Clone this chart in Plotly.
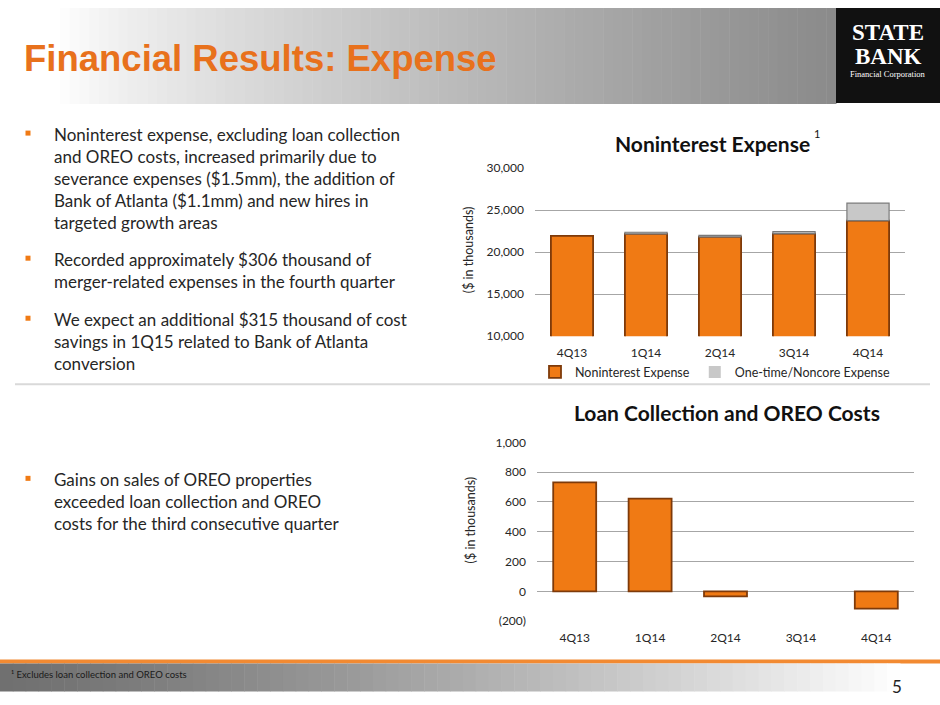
import plotly.graph_objects as go

# ---------------- data ----------------
quarters = ["4Q13", "1Q14", "2Q14", "3Q14", "4Q14"]
nonint_expense = [21930, 22170, 21810, 22200, 23760]
onetime_expense = [0, 200, 200, 250, 2070]
loan_oreo_costs = [731, 622, -34, 0, -116]

top_yticks = [10000, 15000, 20000, 25000, 30000]
top_yticklabels = ["10,000", "15,000", "20,000", "25,000", "30,000"]
bot_yticks = [-200, 0, 200, 400, 600, 800, 1000]
bot_yticklabels = ["(200)", "0", "200", "400", "600", "800", "1,000"]

bullets_top = [
    "Noninterest expense, excluding loan collection<br>and OREO costs, increased primarily due to<br>"
    "severance expenses ($1.5mm), the addition of<br>Bank of Atlanta ($1.1mm) and new hires in<br>targeted growth areas",
    "Recorded approximately $306 thousand of<br>merger-related expenses in the fourth quarter",
    "We expect an additional $315 thousand of cost<br>savings in 1Q15 related to Bank of Atlanta<br>conversion",
]
bullet_bottom = "Gains on sales of OREO properties<br>exceeded loan collection and OREO<br>costs for the third consecutive quarter"

# ---------------- style ----------------
W, H = 940, 705
ORANGE = "#F07A14"
ORANGE_EDGE = "#7E3A0A"
GRAY_BAR = "#C8C8C8"
GRAY_EDGE = "#7A7A7A"
GRID = "#A6A6A6"
TXT = "#262626"
BODY_FONT = "Lato, Carlito, Calibri, sans-serif"

# the photographed page shows the figure slightly compressed vertically
# (offset 8 px, scale ~0.978); positions below are given in target-picture
# pixels and converted here.
V_OFF, V_SCALE = 8.0, 0.978


def px(x):
    return x / W


def py(y):
    yf = (y - V_OFF) / V_SCALE
    return min(1.0, max(0.0, 1 - yf / H))


fig = go.Figure()

fig.add_trace(go.Bar(
    x=quarters, y=nonint_expense, name="Noninterest Expense",
    marker=dict(color=ORANGE, line=dict(color=ORANGE_EDGE, width=1.8)),
    width=0.57, xaxis="x", yaxis="y",
))
fig.add_trace(go.Bar(
    x=quarters, y=onetime_expense, name="One-time/Noncore Expense",
    marker=dict(color=GRAY_BAR,
                line=dict(color=GRAY_EDGE, width=[0 if v == 0 else 1.2 for v in onetime_expense])),
    width=0.57, xaxis="x", yaxis="y",
))
fig.add_trace(go.Bar(
    x=quarters, y=loan_oreo_costs, name="Loan Collection and OREO Costs",
    marker=dict(color=ORANGE,
                line=dict(color=ORANGE_EDGE, width=[0 if v == 0 else 1.8 for v in loan_oreo_costs])),
    width=0.57, xaxis="x2", yaxis="y2", showlegend=False,
))

shapes = []

# header gradient band
n = 80
x0, x1 = 60, 836
for i in range(n):
    a = x0 + (x1 - x0) * i / n
    b = x0 + (x1 - x0) * (i + 1) / n + 0.5
    t = (i + 0.5) / n
    v = int(round(255 - (255 - 138) * (t ** 0.8)))
    c = f"rgb({v},{v},{v})"
    shapes.append(dict(type="rect", xref="paper", yref="paper",
                       x0=px(a), x1=px(b), y0=py(104), y1=1,
                       fillcolor=c, line=dict(width=0), layer="below"))
# logo box
shapes.append(dict(type="rect", xref="paper", yref="paper",
                   x0=px(836), x1=px(940), y0=py(103), y1=1,
                   fillcolor="#111111", line=dict(width=0), layer="below"))

# separator line
shapes.append(dict(type="line", xref="paper", yref="paper",
                   x0=px(15), x1=px(930), y0=py(384), y1=py(384),
                   line=dict(color="#D9D9D9", width=2), layer="below"))

# footer orange line
shapes.append(dict(type="rect", xref="paper", yref="paper",
                   x0=0, x1=1, y0=py(663), y1=py(659),
                   fillcolor="#F28A32", line=dict(width=0), layer="below"))
# footer gradient
n2 = 70
for i in range(n2):
    a = 900 * i / n2
    b = 900 * (i + 1) / n2 + 0.5
    t = (i + 0.5) / n2
    v = int(round(112 + (255 - 112) * (t ** 1.3)))
    c = f"rgb({v},{v},{v})"
    shapes.append(dict(type="rect", xref="paper", yref="paper",
                       x0=px(a), x1=px(b), y0=py(691), y1=py(663),
                       fillcolor=c, line=dict(width=0), layer="below"))

# bullet squares
for yc in [133, 258, 318, 478]:
    shapes.append(dict(type="rect", xref="paper", yref="paper",
                       x0=px(25.5), x1=px(30.5), y0=py(yc + 2.5), y1=py(yc - 2.5),
                       fillcolor="#F07A14", line=dict(width=0)))

annotations = []

# title
annotations.append(dict(text="<b>Financial Results: Expense</b>", x=px(22), y=py(58),
                        xref="paper", yref="paper", xanchor="left", yanchor="middle",
                        showarrow=False,
                        font=dict(family="Liberation Sans Narrow, Arial Narrow, Arial, sans-serif",
                                  size=36.5, color="#E8711C")))
# logo text
annotations.append(dict(text="<b>STATE</b>", x=px(888), y=py(32), xref="paper", yref="paper",
                        showarrow=False, xanchor="center", yanchor="middle",
                        font=dict(family="Liberation Serif, serif", size=23, color="white")))
annotations.append(dict(text="<b>BANK</b>", x=px(888), y=py(56), xref="paper", yref="paper",
                        showarrow=False, xanchor="center", yanchor="middle",
                        font=dict(family="Liberation Serif, serif", size=23, color="white")))
annotations.append(dict(text="Financial Corporation", x=px(888), y=py(74), xref="paper", yref="paper",
                        showarrow=False, xanchor="center", yanchor="middle",
                        font=dict(family="Liberation Serif, serif", size=8.5, color="white")))

# bullets
bullet_tops = [122, 247, 307]
for txt, ytop in zip(bullets_top, bullet_tops):
    annotations.append(dict(text=txt, x=px(52), y=py(ytop), xref="paper", yref="paper",
                            xanchor="left", yanchor="top", align="left", showarrow=False,
                            font=dict(family=BODY_FONT, size=17, color=TXT)))
annotations.append(dict(text=bullet_bottom, x=px(52), y=py(467), xref="paper", yref="paper",
                        xanchor="left", yanchor="top", align="left", showarrow=False,
                        font=dict(family=BODY_FONT, size=17, color=TXT)))

# chart titles
annotations.append(dict(text="<b>Noninterest Expense</b>", x=px(712), y=py(143), xref="paper", yref="paper",
                        xanchor="center", yanchor="middle", showarrow=False,
                        font=dict(family=BODY_FONT, size=21, color="#111111")))
annotations.append(dict(text="1", x=px(817), y=py(133), xref="paper", yref="paper",
                        xanchor="center", yanchor="middle", showarrow=False,
                        font=dict(family=BODY_FONT, size=11, color="#111111")))
annotations.append(dict(text="<b>Loan Collection and OREO Costs</b>", x=px(727), y=py(412), xref="paper",
                        yref="paper", xanchor="center", yanchor="middle", showarrow=False,
                        font=dict(family=BODY_FONT, size=21, color="#111111")))

# axis titles
for yy, xx in [(250, 468), (520, 470)]:
    annotations.append(dict(text="($ in thousands)", x=px(xx), y=py(yy), xref="paper", yref="paper",
                            xanchor="center", yanchor="middle", showarrow=False, textangle=-90,
                            font=dict(family=BODY_FONT, size=12.5, color=TXT)))

# footer text
annotations.append(dict(text="¹ Excludes loan collection and OREO costs", x=px(9), y=py(674),
                        xref="paper", yref="paper", xanchor="left", yanchor="middle", showarrow=False,
                        font=dict(family=BODY_FONT, size=9.5, color="#1a1a1a")))
annotations.append(dict(text="5", x=px(897), y=py(686), xref="paper", yref="paper",
                        xanchor="center", yanchor="middle", showarrow=False,
                        font=dict(family=BODY_FONT, size=17, color="#222222")))

tickfont = dict(family=BODY_FONT, size=12, color=TXT)

fig.update_layout(
    width=W, height=H,
    margin=dict(l=0, r=0, t=0, b=0),
    paper_bgcolor="white", plot_bgcolor="rgba(0,0,0,0)",
    barmode="relative",
    shapes=shapes, annotations=annotations,
    showlegend=True,
    legend=dict(orientation="h", x=px(715), y=py(372), xanchor="center", yanchor="middle",
                font=dict(family=BODY_FONT, size=12.5, color=TXT), bgcolor="rgba(0,0,0,0)",
                itemwidth=30),
    xaxis=dict(domain=[px(535), px(905)], anchor="y", showgrid=False, showline=False,
               zeroline=False, ticks="", tickfont=tickfont, ticklabelstandoff=8),
    yaxis=dict(domain=[py(336), py(168)], anchor="x", range=[10000, 30000],
               tickvals=top_yticks, ticktext=top_yticklabels, showgrid=True, gridcolor=GRID,
               gridwidth=1, zeroline=False, showline=False, ticks="", tickfont=tickfont,
               ticklabelstandoff=10),
    xaxis2=dict(domain=[px(537), px(914)], anchor="y2", showgrid=False, showline=False,
                zeroline=False, ticks="", tickfont=tickfont, ticklabelstandoff=8),
    yaxis2=dict(domain=[py(620.7), py(442)], anchor="x2", range=[-200, 1000],
                tickvals=bot_yticks, ticktext=bot_yticklabels, showgrid=True, gridcolor=GRID,
                gridwidth=1, zeroline=False, showline=False, ticks="", tickfont=tickfont,
                ticklabelstandoff=10),
)

fig.write_html(
    "out.html",
    config={"displayModeBar": False},
    post_script=(
        "document.documentElement.style.margin='0';"
        "document.body.style.margin='0';"
        "document.body.style.padding='0';"
    ),
)
